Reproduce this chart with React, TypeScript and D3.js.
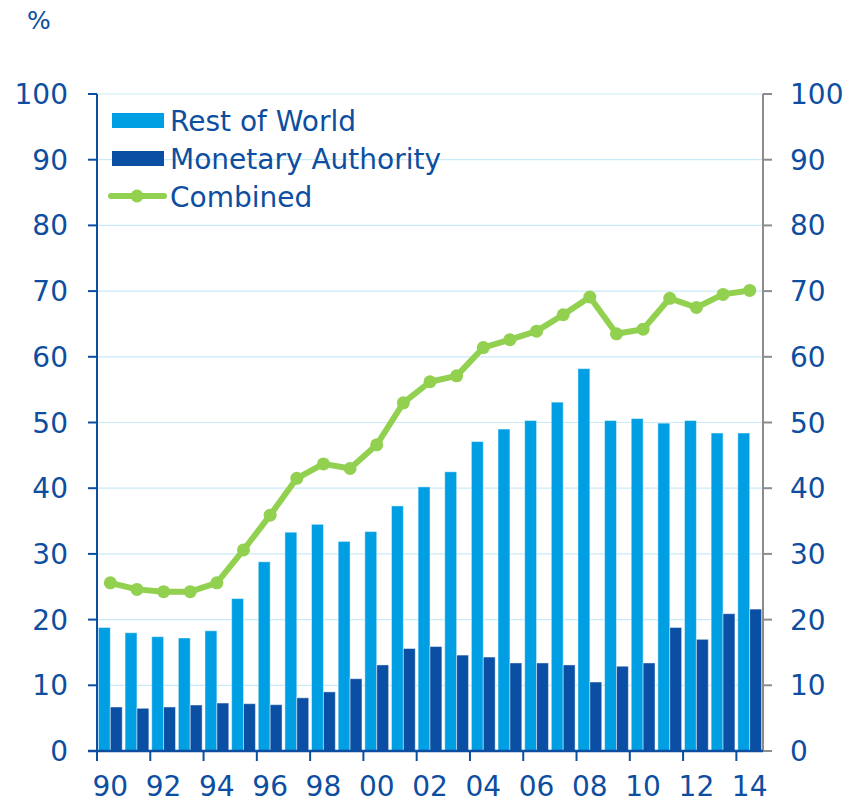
import React from 'react';
import * as d3 from 'd3';

const years = d3.range(1990, 2015);
const restOfWorld = [18.8, 18.0, 17.4, 17.2, 18.3, 23.2, 28.8, 33.3, 34.5, 31.9, 33.4, 37.3, 40.2, 42.5, 47.1, 49.0, 50.3, 53.1, 58.2, 50.3, 50.6, 49.9, 50.3, 48.4, 48.4];
const monetaryAuthority = [6.7, 6.5, 6.7, 7.0, 7.3, 7.2, 7.05, 8.1, 9.0, 11.0, 13.1, 15.6, 15.9, 14.6, 14.3, 13.4, 13.4, 13.1, 10.5, 12.9, 13.4, 18.8, 17.0, 20.9, 21.6];
const combined = [25.6, 24.6, 24.25, 24.25, 25.6, 30.6, 35.9, 41.5, 43.7, 43.0, 46.6, 53.0, 56.2, 57.1, 61.4, 62.6, 63.9, 66.4, 69.1, 63.5, 64.2, 68.9, 67.5, 69.5, 70.1];
const yTicks = d3.range(0, 101, 10);
const seriesKeys = ['row', 'ma'];

const W = 865;
const H = 803;
const left = 97;
const right = 763;
const top = 94;
const bottom = 751;

const textColor = '#0d4ea0';
const lightBlue = '#009fe3';
const darkBlue = '#0a4fa3';
const green = '#92d050';
const gridColor = '#c8eaf8';
const font = '"DejaVu Sans", Verdana, sans-serif';

export default function App() {
  const x = d3.scaleBand<number>().domain(years).range([left, right]);
  const sub = d3.scaleBand<string>().domain(seriesKeys).range([0, x.bandwidth()]).paddingOuter(0.12);
  const y = d3.scaleLinear().domain([0, 100]).range([bottom, top]);

  const line = d3.line<number>()
    .x((d, i) => (x(years[i]) as number) + x.bandwidth() / 2)
    .y(d => y(d));

  return (
    <svg width={W} height={H} style={{ position: 'absolute', left: 0, top: 0 }} fontFamily={font}>
      {/* gridlines */}
      {yTicks.filter(t => t > 0).map(t => (
        <line key={t} x1={left} x2={right} y1={y(t)} y2={y(t)} stroke={gridColor} strokeWidth={1.2} />
      ))}

      {/* bars */}
      {years.map((yr, i) => {
        const x0 = x(yr) as number;
        return (
          <g key={yr}>
            <rect x={x0 + (sub('row') as number)} y={y(restOfWorld[i])} width={sub.bandwidth()} height={bottom - y(restOfWorld[i])}
              fill={lightBlue} stroke="rgba(255,255,255,0.45)" strokeWidth={1} />
            <rect x={x0 + (sub('ma') as number)} y={y(monetaryAuthority[i])} width={sub.bandwidth()} height={bottom - y(monetaryAuthority[i])}
              fill={darkBlue} stroke="rgba(255,255,255,0.45)" strokeWidth={1} />
          </g>
        );
      })}

      {/* combined line */}
      <path d={line(combined) || ''} fill="none" stroke={green} strokeWidth={6} strokeLinejoin="round" />
      {combined.map((v, i) => (
        <circle key={i} cx={(x(years[i]) as number) + x.bandwidth() / 2} cy={y(v)} r={6.5} fill={green} />
      ))}

      {/* left axis */}
      <line x1={left} x2={left} y1={top} y2={bottom} stroke={textColor} strokeWidth={2} />
      {yTicks.map(t => (
        <g key={'l' + t}>
          <line x1={left - 9} x2={left} y1={y(t)} y2={y(t)} stroke={textColor} strokeWidth={2} />
          <text x={68} y={y(t)} dy="0.36em" textAnchor="end" fontSize={28} fill={textColor}>{t}</text>
        </g>
      ))}

      {/* right axis */}
      <line x1={right} x2={right} y1={top} y2={bottom} stroke="#8c8c8c" strokeWidth={2} />
      {yTicks.map(t => (
        <g key={'r' + t}>
          <line x1={right} x2={right + 9} y1={y(t)} y2={y(t)} stroke="#8c8c8c" strokeWidth={2} />
          <text x={790} y={y(t)} dy="0.36em" textAnchor="start" fontSize={28} fill={textColor}>{t}</text>
        </g>
      ))}

      {/* bottom axis */}
      <line x1={left - 9} x2={right} y1={bottom} y2={bottom} stroke={textColor} strokeWidth={2.5} />
      {years.filter(yr => yr % 2 === 0).map(yr => (
        <g key={'x' + yr}>
          <line x1={x(yr) as number} x2={x(yr) as number} y1={bottom} y2={bottom + 10} stroke={textColor} strokeWidth={2} />
          <text x={(x(yr) as number) + x.bandwidth() / 2} y={796} textAnchor="middle" fontSize={28} fill={textColor}>
            {String(yr % 100).padStart(2, '0')}
          </text>
        </g>
      ))}

      {/* unit */}
      <text x={27} y={29} fontSize={25} fill={textColor}>%</text>

      {/* legend */}
      <rect x={112} y={113} width={52} height={15} fill={lightBlue} />
      <text x={170} y={131} fontSize={28} fill={textColor}>Rest of World</text>
      <rect x={112} y={151} width={52} height={15} fill={darkBlue} />
      <text x={170} y={169} fontSize={28} fill={textColor}>Monetary Authority</text>
      <line x1={111} x2={164} y1={196} y2={196} stroke={green} strokeWidth={6} strokeLinecap="round" />
      <circle cx={137} cy={196} r={6.5} fill={green} />
      <text x={170} y={207} fontSize={28} fill={textColor}>Combined</text>
    </svg>
  );
}
